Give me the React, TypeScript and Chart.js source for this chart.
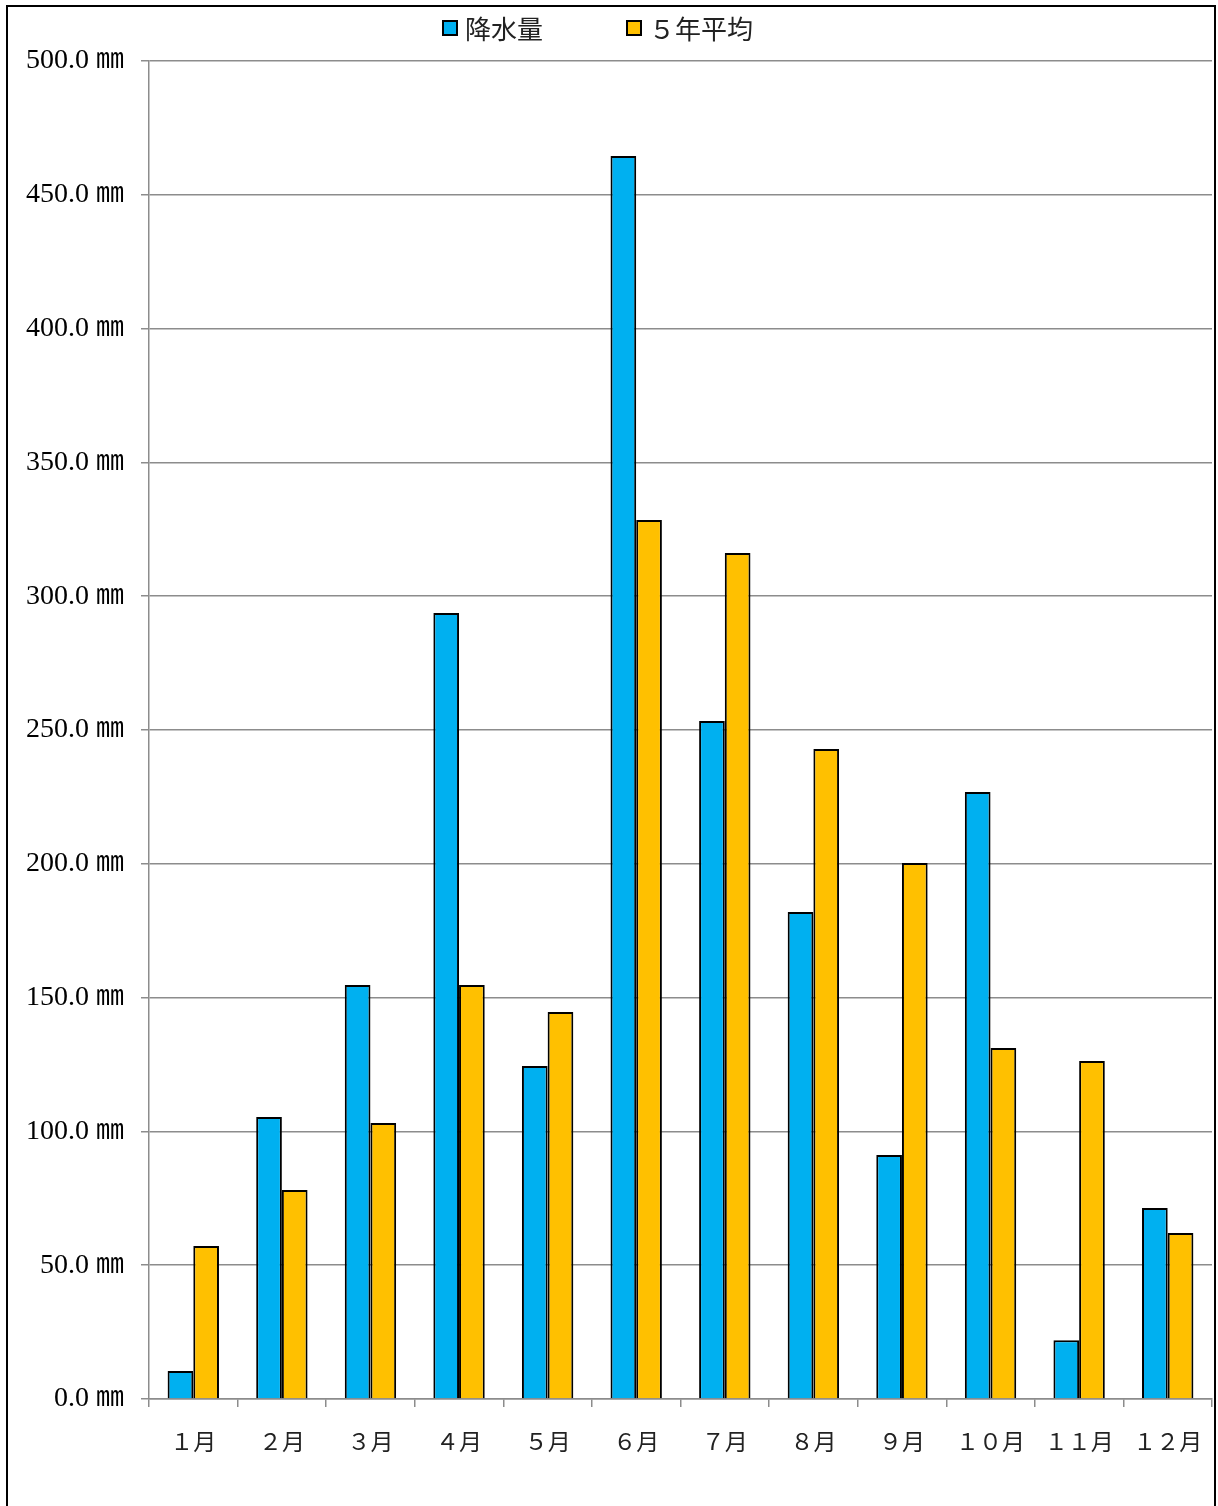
import React, { useEffect, useRef } from "react";
import { Chart, registerables } from "chart.js";

Chart.register(...registerables);

const months = ["１月", "２月", "３月", "４月", "５月", "６月", "７月", "８月", "９月", "１０月", "１１月", "１２月"];
const rainfall = [10.5, 105.4, 154.7, 293.7, 124.4, 464.5, 253.4, 182.0, 91.2, 226.8, 22.0, 71.4];
const fiveYearAvg = [57.2, 78.1, 103.1, 154.7, 144.6, 328.5, 316.1, 242.9, 200.3, 131.2, 126.3, 62.0];
const seriesNames = ["降水量", "５年平均"];
const seriesColors = ["#00B0F0", "#FFC000"];

const CANVAS_W = 1206;
const CANVAS_H = 1499;

const legendPlugin = {
  id: "customLegend",
  afterDraw(chart: any) {
    const ctx = chart.ctx;
    ctx.save();
    ctx.font = '26px "Noto Sans CJK JP", sans-serif';
    ctx.textBaseline = "middle";
    const box = 14;
    const textGap = 8;
    const itemGap = 84;
    const cy = 21;
    const items = chart.data.datasets.map((d: any) => ({ label: d.label, color: d.backgroundColor }));
    const widths = items.map((it: any) => box + textGap + ctx.measureText(it.label).width);
    const total = widths.reduce((a: number, b: number) => a + b, 0) + itemGap * (items.length - 1);
    let x = 590 - total / 2;
    items.forEach((it: any, i: number) => {
      ctx.fillStyle = it.color;
      ctx.fillRect(x, cy - box / 2, box, box);
      ctx.lineWidth = 2;
      ctx.strokeStyle = "#000";
      ctx.strokeRect(x, cy - box / 2, box, box);
      ctx.fillStyle = "#222";
      ctx.fillText(it.label, x + box + textGap, cy + 1);
      x += widths[i] + itemGap;
    });
    ctx.restore();
  },
};

export default function App() {
  const ref = useRef<HTMLCanvasElement>(null);
  useEffect(() => {
    if (!ref.current) return;
    const chart = new Chart(ref.current, {
      type: "bar",
      data: {
        labels: months,
        datasets: [
          {
            label: seriesNames[0],
            data: rainfall,
            backgroundColor: seriesColors[0],
            borderColor: "#000",
            borderWidth: 2,
            barPercentage: 1,
            categoryPercentage: 0.58,
          },
          {
            label: seriesNames[1],
            data: fiveYearAvg,
            backgroundColor: seriesColors[1],
            borderColor: "#000",
            borderWidth: 2,
            barPercentage: 1,
            categoryPercentage: 0.58,
          },
        ],
      },
      options: {
        animation: false,
        responsive: false,
        devicePixelRatio: 1,
        layout: { padding: { top: 54, right: 2, left: 0, bottom: 8 } },
        plugins: {
          legend: { display: false },
          tooltip: { enabled: false },
        },
        scales: {
          x: {
            grid: {
              drawOnChartArea: false,
              drawTicks: true,
              tickLength: 8,
              color: "#8c8c8c",
              lineWidth: 1.5,
            },
            border: { display: true, color: "#8c8c8c", width: 1.5 },
            ticks: {
              color: "#222",
              padding: 20,
              maxRotation: 0,
              autoSkip: false,
              font: { family: '"Noto Sans CJK JP", sans-serif', size: 23 },
            },
            afterFit: (s: any) => {
              s.height = 99;
              s.paddingLeft = 0;
              s.paddingRight = 0;
            },
          },
          y: {
            min: 0,
            max: 500,
            grid: { color: "#8c8c8c", lineWidth: 1.5, tickLength: 8 },
            border: { display: true, color: "#8c8c8c", width: 1.5 },
            ticks: {
              stepSize: 50,
              padding: 17,
              color: "#000",
              font: { family: '"Liberation Serif", "Noto Sans CJK JP", serif', size: 28 },
              callback: (v: any) => Number(v).toFixed(1) + " ㎜",
            },
            afterFit: (s: any) => {
              s.width = 141;
              s.paddingTop = 0;
              s.paddingBottom = 0;
            },
          },
        },
      },
      plugins: [legendPlugin],
    });
    return () => chart.destroy();
  }, []);
  return (
    <div
      style={{
        position: "absolute",
        left: 6,
        top: 5,
        width: CANVAS_W,
        height: CANVAS_H,
        borderTop: "2px solid #000",
        borderLeft: "2px solid #000",
        borderRight: "2px solid #000",
        background: "#fff",
      }}
    >
      <canvas ref={ref} width={CANVAS_W} height={CANVAS_H} style={{ display: "block" }} />
    </div>
  );
}
